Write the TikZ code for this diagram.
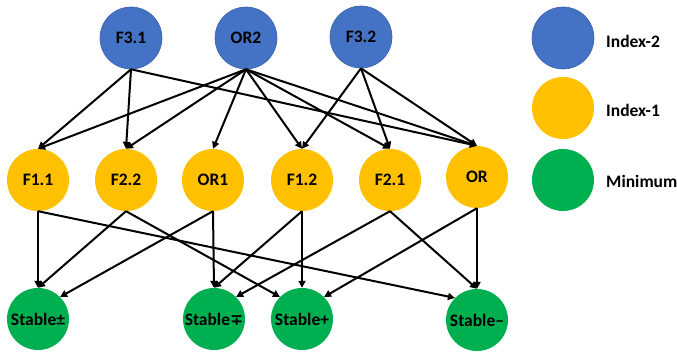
\documentclass[tikz,border=0pt]{standalone}
\usepackage{fontspec}
\setmainfont{Carlito}
\newfontfamily\symfont[Scale=0.9]{DejaVu Sans}
\usetikzlibrary{arrows.meta}

\definecolor{idxtwo}{HTML}{4472C4}
\definecolor{idxtwoline}{HTML}{3A62AC}
\definecolor{idxone}{HTML}{FFC000}
\definecolor{minc}{HTML}{00B050}

\tikzset{
  state/.style={circle, minimum size=62pt, inner sep=0pt,
    font=\bfseries\fontsize{17.5}{19}\selectfont},
  idxtwostate/.style={state, fill=idxtwo, draw=idxtwoline, line width=0.6pt},
  idxonestate/.style={state, fill=idxone},
  minstate/.style={state, fill=minc},
  legendtext/.style={anchor=west, inner sep=0pt,
    font=\bfseries\fontsize{17.5}{19}\selectfont},
  link/.style={-{Triangle[length=7pt,width=7pt]}, line width=2pt, black}
}

\begin{document}
\begin{tikzpicture}[x=1pt,y=-1pt]
\useasboundingbox (0,0) rectangle (677,352);

% index-2 saddles
\node[idxtwostate] (F31) at (131,38) {F3.1};
\node[idxtwostate] (OR2) at (246,38) {OR2};
\node[idxtwostate] (F32) at (361,37) {F3.2};

% index-1 saddles
\node[idxonestate] (F11) at (38,180)  {F1.1};
\node[idxonestate] (F22) at (126,180) {F2.2};
\node[idxonestate] (OR1) at (213,180) {OR1};
\node[idxonestate] (F12) at (302,180) {F1.2};
\node[idxonestate] (F21) at (390,180) {F2.1};
\node[idxonestate] (ORx) at (477,177) {OR};

% minima
\node[minstate] (Spm) at (38,319)  {Stable±};
\node[minstate] (Smp) at (214,319) {Stable{\symfont\bfseries ∓}};
\node[minstate] (Sp)  at (302,319) {Stable+};
\node[minstate] (Sm)  at (477,320) {Stable–};

% legend
\node[idxtwostate] (L2) at (563,38)  {};
\node[idxonestate] (L1) at (563,108) {};
\node[minstate]    (L0) at (563,180) {};
\node[legendtext] (T2) at (606,41)  {Index-2};
\node[legendtext] (T1) at (606,110) {Index-1};
\node[legendtext] (T0) at (606,181) {Minimum};

% index-2 -> index-1
\draw[link] (F31.south) -- (F11.north);
\draw[link] (F31.south) -- (F22.north);
\draw[link] (F31.south) -- (ORx.north);
\draw[link] (OR2.south) -- (F11.north);
\draw[link] (OR2.south) -- (F22.north);
\draw[link] (OR2.south) -- (OR1.north);
\draw[link] (OR2.south) -- (F12.north);
\draw[link] (OR2.south) -- (F21.north);
\draw[link] (OR2.south) -- (ORx.north);
\draw[link] (F32.south) -- (F12.north);
\draw[link] (F32.south) -- (F21.north);
\draw[link] (F32.south) -- (ORx.north);

% index-1 -> minima
\draw[link] (F11.south) -- (Spm.north);
\draw[link] (F11.south) -- (Sm.north west);
\draw[link] (F22.south) -- (Spm.north);
\draw[link] (F22.south) -- (Sp.north west);
\draw[link] (OR1.south) -- (Spm.north east);
\draw[link] (OR1.south) -- (Smp.north);
\draw[link] (F12.south) -- (Smp.north);
\draw[link] (F12.south) -- (Sp.north);
\draw[link] (F21.south) -- (Smp.north east);
\draw[link] (F21.south) -- (Sm.north);
\draw[link] (ORx.south) -- (Sp.north east);
\draw[link] (ORx.south) -- (Sm.north);
\end{tikzpicture}
\end{document}
